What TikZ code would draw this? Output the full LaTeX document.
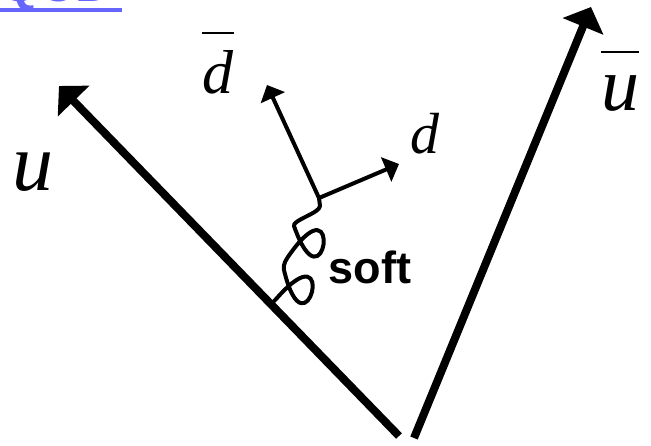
\documentclass[tikz,border=0pt]{standalone}
\usepackage{fontspec}
\setmainfont{Liberation Serif}
\newfontfamily\arialf{Liberation Sans}
\usetikzlibrary{arrows.meta,calc}
\definecolor{qcdblue}{RGB}{102,102,255}
\begin{document}
\begin{tikzpicture}[x=1pt,y=-1pt,
  quark/.style={line width=8pt, -{Triangle[length=21pt,width=43pt]}},
  prod/.style={line width=4pt, -{Triangle[length=14pt,width=26pt]}},
  gluon/.style={line width=4pt, line join=round, line cap=round},
  lab/.style={inner sep=0pt, anchor=base},
  barline/.style={line width=2.5pt}]
\useasboundingbox (0,0) rectangle (651,445);
% title fragment
\fill[qcdblue] (0,8) rectangle (122,12);
\node[lab, anchor=base west, text=qcdblue, font=\arialf\bfseries\fontsize{50}{50}\selectfont] (qcd) at (0,1) {QCD};
% coordinates
\coordinate (ubot) at (399,436);
\coordinate (utip) at (59,86);
\coordinate (ubbot) at (414,438);
\coordinate (ubtip) at (591,7);
\coordinate (v) at (319,198);
\coordinate (dbtip) at (267,85);
\coordinate (dtip) at (399,164);
\coordinate (gend) at (271,305);
% quark lines
\draw[quark] (ubot) -- (utip);
\draw[quark] (ubbot) -- (ubtip);
% produced pair
\draw[prod] (v) -- (dbtip);
\draw[prod] (v) -- (dtip);
% gluon
\draw[gluon] (v) -- (320,206)
  .. controls (320,213) and (292,220.3) .. (294,226)
  .. controls (324.4,313.2) and (343.6,178.8) .. (290,254)
  .. controls (286.5,258.9) and (282.6,264.2) .. (284,270)
  .. controls (305.7,361.7) and (339.3,227.3) .. (277,298)
  .. controls (273.7,301.75) and (271.5,303) .. (gend);
% labels
\node[lab, font=\fontsize{82}{90}\selectfont\itshape] (ul) at (33,190) {u};
\node[lab, font=\fontsize{76}{84}\selectfont\itshape] (ubl) at (620,110) {u};
\draw[barline] ([yshift=23pt]ubl.north west) -- ([yshift=23pt]ubl.north east);
\node[lab, font=\fontsize{62}{70}\selectfont\itshape] (dbl) at (218,93) {d};
\draw[barline] ([yshift=17pt]dbl.north west) -- ([yshift=17pt]dbl.north east);
\node[lab, font=\fontsize{58}{64}\selectfont\itshape] (dl) at (425,153) {d};
\node[lab, font=\arialf\bfseries\fontsize{45}{50}\selectfont] (soft) at (370,283) {soft};
\end{tikzpicture}
\end{document}
